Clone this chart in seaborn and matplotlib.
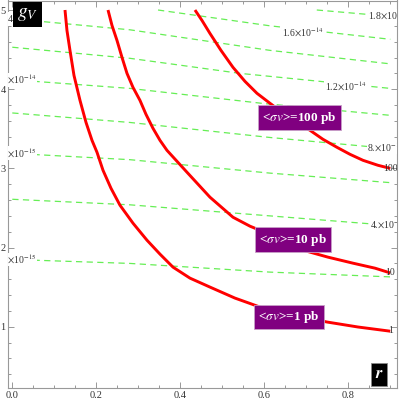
import numpy as np
import pandas as pd
import matplotlib
matplotlib.use("Agg")
import matplotlib.pyplot as plt
import seaborn as sns

# red contours: <sigma v> = 1, 10, 100 pb  (r, g_V)
r_1pb = [0.1255, 0.1302, 0.1374, 0.1469, 0.1612, 0.1755, 0.1898, 0.2017, 0.2160, 0.2350,
         0.2564, 0.2874, 0.3207, 0.3517, 0.3826, 0.4231, 0.4707, 0.5302, 0.5898, 0.6683,
         0.7493, 0.8231, 0.9000]
g_1pb = [5.000, 4.741, 4.489, 4.174, 3.859, 3.581, 3.354, 3.203, 2.976, 2.749,
         2.535, 2.308, 2.093, 1.917, 1.753, 1.614, 1.501, 1.362, 1.249, 1.148,
         1.060, 0.997, 0.944]
r_10pb = [0.2279, 0.2374, 0.2493, 0.2612, 0.2731, 0.2874, 0.3040, 0.3183, 0.3350, 0.3517,
          0.3683, 0.4160, 0.4707, 0.5255, 0.5660, 0.6064, 0.6493, 0.6921, 0.7517, 0.8112,
          0.8636, 0.9000]
g_10pb = [5.000, 4.805, 4.616, 4.402, 4.200, 4.023, 3.859, 3.683, 3.506, 3.354,
          3.228, 2.951, 2.636, 2.383, 2.270, 2.182, 2.068, 1.967, 1.879, 1.803,
          1.740, 1.680]
r_100pb = [0.4350, 0.4517, 0.4707, 0.4969, 0.5255, 0.5540, 0.5826, 0.6136, 0.6612, 0.7088,
           0.7398, 0.7731, 0.8040, 0.8350, 0.8707, 0.9000]
g_100pb = [5.000, 4.868, 4.704, 4.490, 4.276, 4.099, 3.948, 3.822, 3.632, 3.481,
           3.367, 3.266, 3.178, 3.102, 3.039, 3.000]

# green dashed contours (cross section levels)
green_levels = ["1.8", "1.6", "1.4", "1.2", "1.", "8.", "6.", "4.", "2."]
green_exp = [-14, -14, -14, -14, -14, -15, -15, -15, -15]
green_r = [
    [0.725, 0.900],
    [0.347, 0.614, 0.900],
    [0.0, 0.280, 0.614, 0.900],
    [0.0, 0.280, 0.542, 0.900],
    [0.0, 0.280, 0.597, 0.900],
    [0.0, 0.280, 0.614, 0.900],
    [0.0, 0.280, 0.614, 0.900],
    [0.0, 0.280, 0.614, 0.900],
    [0.0, 0.280, 0.614, 0.900],
]
green_g = [
    [5.00, 4.92],
    [5.00, 4.80, 4.63],
    [4.89, 4.75, 4.49, 4.32],
    [4.53, 4.39, 4.20, 4.01],
    [4.12, 4.01, 3.82, 3.67],
    [3.70, 3.58, 3.39, 3.25],
    [3.19, 3.11, 2.94, 2.82],
    [2.61, 2.54, 2.40, 2.28],
    [1.85, 1.80, 1.69, 1.63],
]
# label anchor for each green contour (r, g, horizontal alignment)
green_lab_r = [0.846, 0.692, -0.030, 0.793, -0.030, 0.845, -0.030, 0.852, -0.030]
green_lab_g = [4.93, 4.72, 4.89, 4.03, 4.12, 3.27, 3.19, 2.29, 1.85]
green_lab_ha = ["left", "center", "left", "center", "left", "left", "left", "left", "left"]

box_texts = ["<$\\sigma v$>=100 pb", "<$\\sigma v$>=10 pb", "<$\\sigma v$>=1 pb"]
box_r = [0.683, 0.669, 0.659]
box_g = [3.64, 2.10, 1.12]

end_labels = ["100", "10", "1"]
end_g = [3.00, 1.68, 0.95]

sns.set_style("ticks")
plt.rcParams["font.family"] = ["Liberation Serif", "DejaVu Serif"]
plt.rcParams["mathtext.fontset"] = "stix"

fig = plt.figure(figsize=(3.99, 4.08), dpi=100)
ax = fig.add_axes([8.3 / 399, 19.7 / 408, 388.7 / 399, 387.8 / 408])

green = "#66ee55"
for rr, gg in zip(green_r, green_g):
    sns.lineplot(x=rr, y=gg, ax=ax, color=green, lw=0.9, sort=False,
                 estimator=None, linestyle=(0, (5, 3.5)))

for rr, gg in [(r_1pb, g_1pb), (r_10pb, g_10pb), (r_100pb, g_100pb)]:
    sns.lineplot(x=rr, y=gg, ax=ax, color="red", lw=2.1, sort=False, estimator=None,
                 solid_joinstyle="round", solid_capstyle="butt")

for lev, ex, lr, lg, ha in zip(green_levels, green_exp, green_lab_r, green_lab_g, green_lab_ha):
    ax.text(lr, lg, lev + "$\\times$10$^{%d}$" % ex, fontsize=7, ha=ha, va="center",
            color="#333333", clip_on=True, zorder=4,
            bbox=dict(facecolor="white", edgecolor="none", pad=0.3))

for lab, gg in zip(end_labels, end_g):
    ax.text(0.9, gg, lab, fontsize=7, ha="center", va="center", color="#333333",
            clip_on=True, zorder=4)

for txt, br, bg in zip(box_texts, box_r, box_g):
    ax.text(br, bg, txt, fontsize=9.5, fontweight="bold", color="white",
            ha="center", va="center", zorder=5,
            bbox=dict(facecolor="#800080", edgecolor="#c8a0c8", pad=3, lw=0.6))

ax.text(0.012, 5.05, "$g_V$", fontsize=14, color="white", ha="left", va="top",
        zorder=6, bbox=dict(facecolor="black", edgecolor="none", pad=2.8))
ax.text(0.884, 0.30, "$\\boldsymbol{r}$", fontsize=12, color="white", ha="right",
        va="bottom", zorder=6,
        bbox=dict(facecolor="black", edgecolor="#888888", pad=2.5, lw=0.6))

ax.set_xlim(-0.0095, 0.916)
ax.set_ylim(0.223, 5.12)
ax.set_xticks([0.0, 0.2, 0.4, 0.6, 0.8])
ax.set_xticklabels(["0.0", "0.2", "0.4", "0.6", "0.8"])
ax.set_xticks(np.arange(0, 0.91, 0.05), minor=True)
ax.set_yticks([1, 2, 3, 4, 5])
ax.set_yticks(np.arange(0.4, 5.01, 0.2), minor=True)
ax.set_xlabel("")
ax.set_ylabel("")
ax.tick_params(which="both", direction="in", top=True, right=True,
               color="#888888", labelsize=7.5, labelcolor="#333333", width=0.6, pad=2)
ax.tick_params(which="major", length=4)
ax.tick_params(which="minor", length=2.3)
for sp in ax.spines.values():
    sp.set_color("#999999")
    sp.set_linewidth(0.8)

fig.savefig("out.png", dpi=100)
